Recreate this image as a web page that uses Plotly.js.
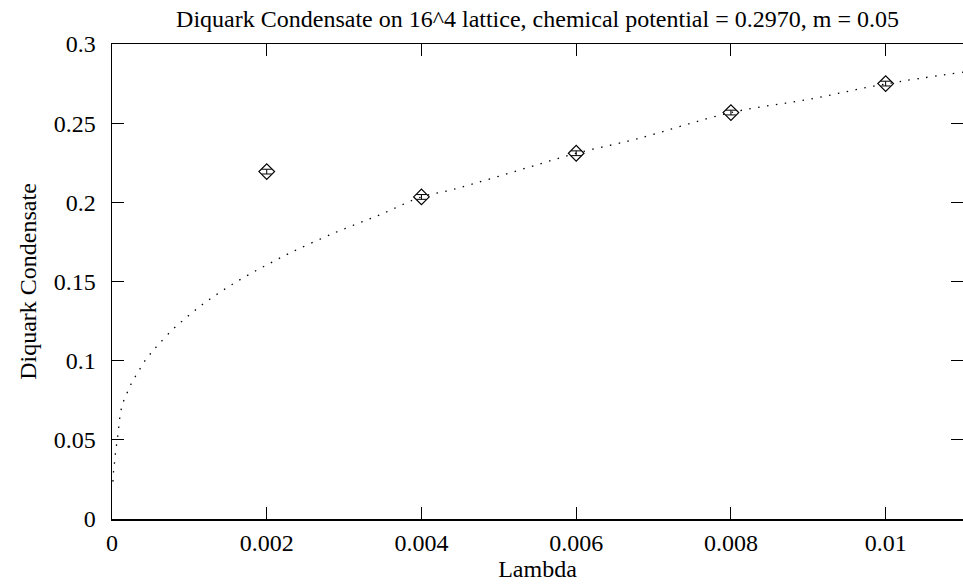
<!DOCTYPE html>
<html>
<head>
<meta charset="utf-8">
<script src="https://cdn.plot.ly/plotly-3.0.1.min.js"></script>
<style>html,body{margin:0;padding:0;background:#fff;}#chart{width:963px;height:588px;}</style>
</head>
<body>
<div id="chart"></div>
<script>
// Measured data points
const lambdaVals = [0.002, 0.004, 0.006, 0.008, 0.010];
const condVals   = [0.2194, 0.2034, 0.2310, 0.2567, 0.2750];
const condErr    = [0.0015, 0.0015, 0.0015, 0.0015, 0.0015];

// Dotted fit curve
const fitX = [0.0000116, 0.00002, 0.0000336, 0.0000465, 0.0000637, 0.0000809, 0.0000938, 0.000111,
              0.000141, 0.000193, 0.000245, 0.000305, 0.000374, 0.000443, 0.00052, 0.000606,
              0.000787, 0.00098, 0.001183, 0.00139, 0.001605, 0.001829, 0.002057, 0.002291,
              0.002866, 0.003456, 0.004, 0.004423, 0.005392, 0.006, 0.006771, 0.008,
              0.00901, 0.010, 0.011];
const fitY = [0.0236, 0.0299, 0.0362, 0.0425, 0.0486, 0.0548, 0.0611, 0.0674,
              0.0733, 0.0794, 0.0851, 0.0903, 0.0958, 0.1011, 0.1057, 0.1105,
              0.1198, 0.1280, 0.1360, 0.1430, 0.1497, 0.1560, 0.1619, 0.1678,
              0.1805, 0.1920, 0.2034, 0.2083, 0.2222, 0.2310, 0.2399, 0.2567,
              0.2651, 0.2748, 0.2822];

const xTickVals = [0, 0.002, 0.004, 0.006, 0.008, 0.01];
const xTickText = ['0', '0.002', '0.004', '0.006', '0.008', '0.01'];
const yTickVals = [0, 0.05, 0.1, 0.15, 0.2, 0.25, 0.3];
const yTickText = ['0', '0.05', '0.1', '0.15', '0.2', '0.25', '0.3'];

const FONT = 'Liberation Serif, Times New Roman, serif';
const FS = 24;

const traces = [
  {
    x: fitX, y: fitY, type: 'scatter', mode: 'lines',
    line: {color: '#000', width: 1.3, dash: '1.5px,7.5px', shape: 'spline'},
    hoverinfo: 'skip', showlegend: false
  },
  {
    x: lambdaVals, y: condVals, type: 'scatter', mode: 'markers',
    marker: {symbol: 'diamond-open', size: 12, color: '#000', line: {width: 1.2, color: '#000'}},
    error_y: {type: 'data', array: condErr, visible: true, color: '#000', thickness: 1, width: 5},
    showlegend: false
  }
];

const layout = {
  width: 963, height: 588,
  margin: {l: 112, r: 0, t: 44, b: 69, pad: 0},
  paper_bgcolor: '#fff', plot_bgcolor: '#fff',
  font: {family: FONT, size: FS, color: '#000'},
  title: {
    text: 'Diquark Condensate on 16^4 lattice, chemical potential = 0.2970, m = 0.05',
    font: {family: FONT, size: FS, color: '#000'},
    x: 0.5, xref: 'paper', y: 0.968, yref: 'container', yanchor: 'middle'
  },
  xaxis: {
    range: [0, 0.011], tickvals: xTickVals, ticktext: xTickText,
    ticks: 'inside', ticklen: 12, tickwidth: 1, tickcolor: '#000',
    showline: true, linecolor: '#000', linewidth: 1.5, mirror: 'allticks',
    showgrid: false, zeroline: false, ticklabelstandoff: 2,
    tickfont: {family: FONT, size: FS},
    title: {text: 'Lambda', font: {family: FONT, size: FS}, standoff: 2}
  },
  yaxis: {
    range: [0, 0.3], tickvals: yTickVals, ticktext: yTickText,
    ticks: 'inside', ticklen: 12, tickwidth: 1, tickcolor: '#000',
    showline: true, linecolor: '#000', linewidth: 1.5, mirror: 'allticks',
    showgrid: false, zeroline: false, ticklabelstandoff: 10,
    tickfont: {family: FONT, size: FS},
    title: {text: 'Diquark Condensate', font: {family: FONT, size: FS}, standoff: 10}
  }
};

Plotly.newPlot('chart', traces, layout, {displayModeBar: false, staticPlot: true});
</script>
</body>
</html>
